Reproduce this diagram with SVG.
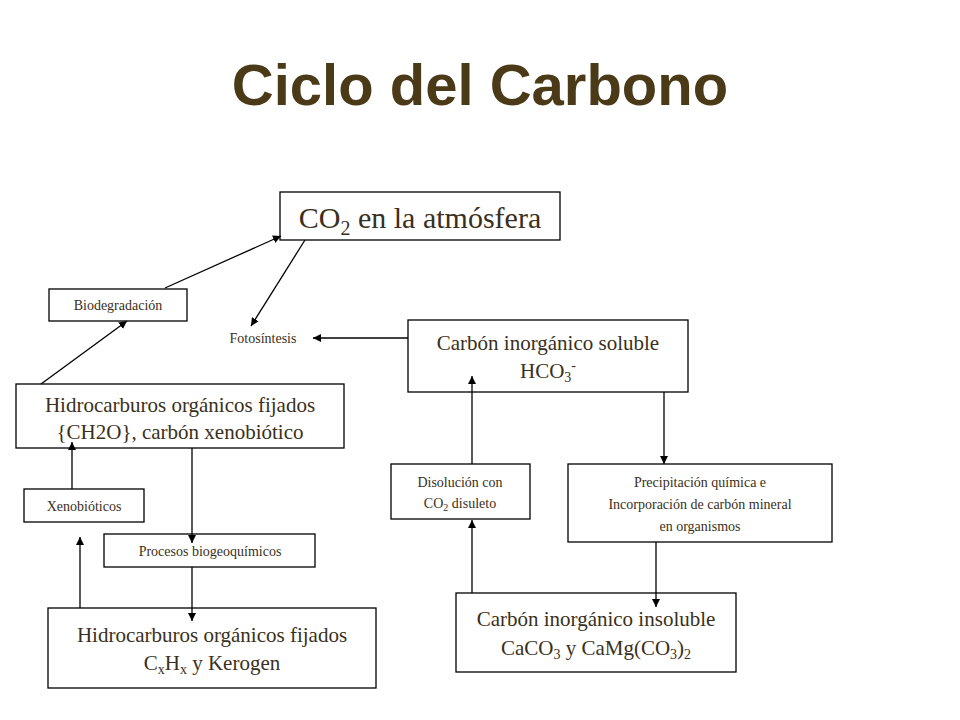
<svg xmlns="http://www.w3.org/2000/svg" width="960" height="720" viewBox="0 0 960 720">
<style>
.b{fill:#fff;stroke:#000;stroke-width:1.3}
.t{font-family:"Liberation Serif",serif;fill:#3a3020;text-anchor:middle}
.c line{stroke:#000;stroke-width:1.3;marker-end:url(#a)}
</style>
<defs><marker id="a" viewBox="0 0 10 10" refX="10" refY="5" markerWidth="8" markerHeight="8" markerUnits="userSpaceOnUse" orient="auto"><path d="M0,0L10,5L0,10z"/></marker></defs>
<rect width="960" height="720" fill="#fff"/>
<text x="480" y="105" font-family="Liberation Sans,Arial,sans-serif" font-weight="bold" font-size="58" fill="#4a3a18" text-anchor="middle">Ciclo del Carbono</text>
<g id="co2"><rect class="b" x="280" y="192" width="280" height="48"/><text class="t" x="420" y="228" font-size="30">CO<tspan font-size="20" dy="7">2</tspan><tspan dy="-7"> en la atmósfera</tspan></text></g>
<g id="biodeg"><rect class="b" x="49" y="289" width="138" height="32"/><text class="t" x="118" y="310" font-size="14">Biodegradación</text></g>
<g id="foto"><text class="t" x="263" y="343" font-size="14">Fotosíntesis</text></g>
<g id="hidro1"><rect class="b" x="16" y="384" width="328" height="64"/><text class="t" x="180" y="412" font-size="21">Hidrocarburos orgánicos fijados</text><text class="t" x="180" y="439" font-size="21">{CH2O}, carbón xenobiótico</text></g>
<g id="xeno"><rect class="b" x="24" y="489" width="120" height="33"/><text class="t" x="84" y="511" font-size="14">Xenobióticos</text></g>
<g id="proc"><rect class="b" x="104" y="534" width="211" height="33"/><text class="t" x="210" y="556" font-size="14">Procesos biogeoquímicos</text></g>
<g id="hidro2"><rect class="b" x="48" y="608" width="328" height="80"/><text class="t" x="212" y="642" font-size="21">Hidrocarburos orgánicos fijados</text><text class="t" x="212" y="670" font-size="21">C<tspan font-size="14" dy="4">x</tspan><tspan dy="-4">H</tspan><tspan font-size="14" dy="4">x</tspan><tspan dy="-4"> y Kerogen</tspan></text></g>
<g id="soluble"><rect class="b" x="408" y="320" width="280" height="72"/><text class="t" x="548" y="350" font-size="21">Carbón inorgánico soluble</text><text class="t" x="548" y="378" font-size="21">HCO<tspan font-size="14" dy="4">3</tspan><tspan font-size="14" dy="-12">-</tspan></text></g>
<g id="disol"><rect class="b" x="391" y="464" width="139" height="55"/><text class="t" x="460" y="487" font-size="14">Disolución con</text><text class="t" x="460" y="508" font-size="14">CO<tspan font-size="10" dy="3">2</tspan><tspan dy="-3"> disuleto</tspan></text></g>
<g id="precip"><rect class="b" x="568" y="464" width="264" height="78"/><text class="t" x="700" y="487" font-size="14">Precipitación química e</text><text class="t" x="700" y="509" font-size="14">Incorporación de carbón mineral</text><text class="t" x="700" y="531" font-size="14">en organismos</text></g>
<g id="insol"><rect class="b" x="456" y="593" width="280" height="79"/><text class="t" x="596" y="626" font-size="21">Carbón inorgánico insoluble</text><text class="t" x="596" y="655" font-size="21">CaCO<tspan font-size="14" dy="4">3</tspan><tspan dy="-4"> y CaMg(CO</tspan><tspan font-size="14" dy="4">3</tspan><tspan dy="-4">)</tspan><tspan font-size="14" dy="4">2</tspan></text></g>
<g class="c" id="connectors">
<line x1="165" y1="288" x2="281" y2="236"/>
<line x1="41" y1="384" x2="127" y2="321"/>
<line x1="305" y1="240" x2="251" y2="326"/>
<line x1="408" y1="338" x2="313" y2="338"/>
<line x1="72" y1="489" x2="72" y2="442"/>
<line x1="80" y1="608" x2="80" y2="537"/>
<line x1="192" y1="448" x2="192" y2="543"/>
<line x1="192" y1="567" x2="192" y2="621"/>
<line x1="472" y1="464" x2="472" y2="376"/>
<line x1="472" y1="593" x2="472" y2="520"/>
<line x1="664" y1="392" x2="664" y2="464"/>
<line x1="656" y1="542" x2="656" y2="607"/>
</g>
</svg>
